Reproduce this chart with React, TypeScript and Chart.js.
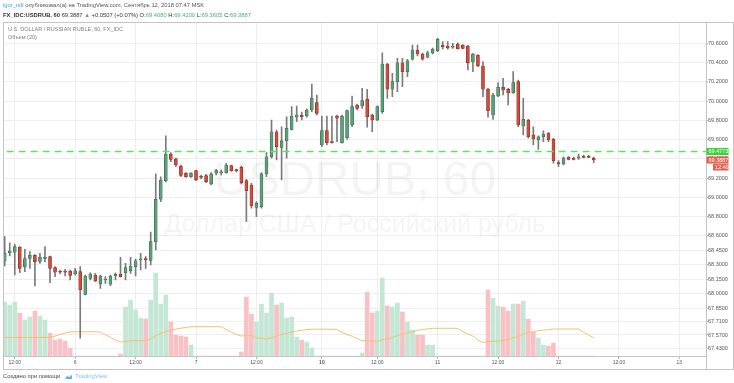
import React, { useEffect, useRef } from 'react';
import { Chart, registerables } from 'chart.js';

Chart.register(...registerables);

const FONT = "'Liberation Sans', Arial, sans-serif";

const opens = [
  68.339, 68.425, 68.430, 68.482, 68.280, 68.367, 68.398, 68.336, 68.367, 68.384,
  68.270, 68.228, 68.226, 68.235, 68.204, 68.228, 67.993, 68.159, 68.193, 68.100,
  68.142, 68.097, 68.183, 68.201, 68.218, 68.238, 68.280, 68.350, 68.360, 68.344,
  68.540, 68.981, 69.174, 69.451, 69.400, 69.327, 69.251, 69.215, 69.278, 69.215,
  69.226, 69.140, 69.251, 69.255, 69.257, 69.330, 69.285, 69.313, 69.174, 69.129,
  68.897, 68.904, 69.244, 69.423, 69.683, 69.521, 69.590, 69.708, 69.833, 69.854,
  69.846, 69.909, 69.985, 69.545, 69.694, 69.576, 69.846, 69.569, 69.621, 69.753,
  69.961, 69.950, 70.020, 69.857, 69.805, 69.891, 70.387, 70.124, 70.203, 70.400,
  70.307, 70.436, 70.532, 70.491, 70.457, 70.504, 70.525, 70.584, 70.574, 70.561,
  70.595, 70.581, 70.574, 70.408, 70.477, 70.366, 70.124, 69.857, 70.054, 70.145,
  70.124, 70.089, 70.203, 69.743, 69.805, 69.649, 69.597, 69.631, 69.669, 69.604,
  69.361, 69.347, 69.417, 69.410, 69.407, 69.430, 69.430, 69.408,
];
const highs = [
  68.592, 68.529, 68.516, 68.488, 68.461, 68.436, 68.405, 68.419, 68.488, 68.391,
  68.280, 68.246, 68.253, 68.246, 68.263, 68.280, 68.193, 68.217, 68.211, 68.193,
  68.176, 68.193, 68.217, 68.378, 68.315, 68.378, 68.360, 68.419, 68.384, 68.641,
  69.244, 69.215, 69.639, 69.465, 69.410, 69.337, 69.257, 69.257, 69.285, 69.233,
  69.240, 69.257, 69.292, 69.285, 69.355, 69.337, 69.295, 69.327, 69.189, 69.147,
  68.956, 69.257, 69.465, 69.805, 69.701, 69.735, 69.839, 69.943, 69.950, 69.888,
  69.922, 70.179, 70.065, 69.846, 69.846, 69.846, 69.857, 69.857, 69.909, 70.054,
  69.971, 70.134, 70.124, 69.867, 69.950, 70.504, 70.394, 70.290, 70.446, 70.446,
  70.436, 70.584, 70.584, 70.501, 70.522, 70.553, 70.654, 70.619, 70.619, 70.602,
  70.608, 70.588, 70.581, 70.498, 70.484, 70.411, 70.134, 70.082, 70.193, 70.238,
  70.134, 70.307, 70.221, 70.030, 69.812, 69.735, 69.639, 69.691, 69.675, 69.615,
  69.382, 69.423, 69.425, 69.420, 69.451, 69.441, 69.438, 69.420,
];
const lows = [
  68.287, 68.391, 68.194, 68.218, 68.228, 68.263, 68.079, 68.315, 68.332, 68.114,
  68.176, 68.204, 68.183, 68.142, 68.193, 67.536, 67.986, 68.142, 68.124, 68.055,
  68.107, 68.082, 68.142, 68.170, 68.142, 68.211, 68.183, 68.246, 68.263, 68.298,
  68.454, 68.956, 69.160, 69.371, 69.320, 69.215, 69.209, 69.209, 69.174, 69.192,
  69.153, 69.129, 69.233, 69.233, 69.251, 69.274, 69.264, 69.140, 68.748, 68.887,
  68.800, 68.887, 69.215, 69.407, 69.389, 69.181, 69.407, 69.701, 69.787, 69.805,
  69.833, 69.891, 69.857, 69.527, 69.545, 69.563, 69.579, 69.563, 69.604, 69.735,
  69.909, 69.926, 69.729, 69.683, 69.798, 69.874, 70.030, 70.047, 70.099, 70.151,
  70.255, 70.428, 70.470, 70.428, 70.449, 70.491, 70.515, 70.540, 70.540, 70.550,
  70.540, 70.543, 70.325, 70.307, 70.359, 70.047, 69.833, 69.812, 70.047, 70.065,
  69.961, 70.082, 69.735, 69.649, 69.615, 69.545, 69.500, 69.579, 69.579, 69.355,
  69.320, 69.337, 69.389, 69.389, 69.396, 69.410, 69.412, 69.3605,
];
const closes = [
  68.419, 68.443, 68.488, 68.263, 68.363, 68.398, 68.332, 68.378, 68.378, 68.263,
  68.222, 68.222, 68.224, 68.190, 68.238, 68.038, 68.183, 68.204, 68.131, 68.183,
  68.149, 68.183, 68.201, 68.176, 68.270, 68.287, 68.342, 68.357, 68.353, 68.540,
  68.981, 69.181, 69.451, 69.396, 69.337, 69.230, 69.215, 69.251, 69.181, 69.209,
  69.164, 69.244, 69.278, 69.259, 69.337, 69.278, 69.278, 69.153, 69.070, 68.911,
  68.939, 69.244, 69.423, 69.683, 69.527, 69.587, 69.719, 69.846, 69.857, 69.839,
  69.909, 70.030, 69.874, 69.694, 69.569, 69.569, 69.823, 69.846, 69.902, 69.943,
  69.926, 70.006, 69.839, 69.805, 69.943, 70.387, 70.124, 70.203, 70.400, 70.307,
  70.421, 70.532, 70.491, 70.436, 70.504, 70.540, 70.644, 70.567, 70.553, 70.567,
  70.546, 70.550, 70.400, 70.491, 70.366, 70.124, 69.902, 70.065, 70.145, 70.117,
  70.089, 70.193, 69.753, 69.812, 69.631, 69.607, 69.631, 69.656, 69.597, 69.382,
  69.347, 69.410, 69.396, 69.396, 69.423, 69.417, 69.417, 69.3887,
];
const volumes = [
  54, 51, 54, 43, 36, 39, 45, 40, 36, 23,
  16, 17, 15, 8, 0, 0, 0, 0, 0, 0,
  0, 0, 0, 2, 49, 56, 46, 38, 37, 56,
  83, 52, 61, 34, 21, 20, 19, 11, 0, 0,
  0, 0, 0, 0, 0, 0, 0, 4, 59, 42,
  34, 52, 43, 63, 51, 53, 38, 39, 19, 16,
  14, 8, 0, 0, 0, 0, 0, 0, 0, 0,
  0, 3, 64, 43, 45, 78, 50, 49, 53, 44,
  34, 26, 21, 21, 11, 11, 0, 0, 0, 0,
  0, 0, 0, 0, 0, 0, 66, 58, 50, 49,
  45, 52, 52, 55, 37, 24, 18, 11, 10, 13,
  0, 0, 0, 0, 0, 0, 0, 0,
];
const volumeMA = [
  18.5, 18.5, 18.5, 18.5, 18.5, 18.5, 18.5, 18.5, 18.5, 18.5,
  20.0, 21.5, 23.0, 24.2, 24.2, 24.2, 24.2, 24.2, 24.2, 23.9,
  21.2, 18.6, 15.9, 13.9, 14.5, 15.4, 15.4, 15.3, 15.4, 17.0,
  20.4, 22.1, 24.4, 25.7, 26.8, 27.8, 28.7, 29.3, 29.3, 29.3,
  29.3, 29.3, 29.3, 29.2, 26.7, 23.9, 21.6, 19.9, 21.0, 20.3,
  17.9, 17.9, 17.0, 18.4, 19.9, 21.6, 22.5, 23.9, 24.9, 25.7,
  26.4, 26.8, 26.8, 26.8, 26.8, 26.8, 26.6, 23.6, 21.5, 19.8,
  17.2, 15.2, 15.3, 14.9, 14.5, 16.5, 17.0, 18.5, 20.4, 21.9,
  23.2, 24.5, 25.5, 26.6, 27.1, 27.7, 27.7, 27.7, 27.7, 27.7,
  27.5, 24.3, 22.2, 19.9, 16.0, 13.5, 14.4, 14.6, 14.9, 15.7,
  16.6, 18.2, 19.7, 21.9, 23.2, 24.4, 25.3, 25.9, 26.4, 27.0,
  27.0, 27.0, 27.0, 27.0, 27.0, 23.7, 20.8, 18.3,
];

const timeTickIndex = [2, 14, 26, 38, 50, 63, 74, 86, 98, 110, 122, 134];
const timeTickLabels = ['12:00', '6', '12:00', '7', '12:00', '10', '12:00', '11', '12:00', '12', '12:00', '13'];
const priceTicks = [70.6, 70.4, 70.2, 70.0, 69.8, 69.6, 69.4, 69.2, 69.0, 68.8, 68.6, 68.45, 68.3, 68.15, 68.0, 67.85, 67.71, 67.57, 67.43];
const hLinePrice = 69.4773;
const lastPrice = 69.3887;
const countdownLabel = '12:49';
const watermarkTitle = 'USDRUB, 60';
const watermarkSubtitle = 'Доллар США / Российский рубль';

const decorPlugin = {
  id: 'decor',
  beforeDatasetsDraw(chart: any) {
    const { ctx, chartArea } = chart;
    const cx = (chartArea.left + chartArea.right) / 2;
    ctx.save();
    ctx.fillStyle = 'rgba(0,0,0,0.045)';
    ctx.textAlign = 'center';
    ctx.textBaseline = 'alphabetic';
    ctx.font = `48px ${FONT}`;
    ctx.fillText(watermarkTitle, cx, 195);
    ctx.font = `25px ${FONT}`;
    ctx.fillText(watermarkSubtitle, cx, 232);
    ctx.restore();
  },
  afterDraw(chart: any) {
    const { ctx, chartArea } = chart;
    const ys = chart.scales.y;
    ctx.save();
    ctx.strokeStyle = '#c4c4c4';
    ctx.lineWidth = 1;
    ctx.strokeRect(3.5, 22.5, 730, 347);
    ctx.beginPath();
    ctx.moveTo(chartArea.right + 0.5, 22.5);
    ctx.lineTo(chartArea.right + 0.5, 369.5);
    ctx.moveTo(3.5, chartArea.bottom + 0.5);
    ctx.lineTo(chartArea.right + 0.5, chartArea.bottom + 0.5);
    ctx.stroke();

    const bx = chartArea.right + 0.5;
    const py1 = ys.getPixelForValue(hLinePrice);
    const py2 = ys.getPixelForValue(lastPrice);
    ctx.font = `5.5px ${FONT}`;
    ctx.textBaseline = 'middle';
    ctx.textAlign = 'left';
    ctx.fillStyle = '#3fcf3f';
    ctx.fillRect(bx, py1 - 3.5, 22, 7);
    ctx.fillStyle = '#ffffff';
    ctx.fillText(hLinePrice.toFixed(4), bx + 2, py1 + 0.3);
    ctx.fillStyle = '#e4604f';
    ctx.fillRect(bx, py2 - 3.5, 22, 7);
    ctx.fillRect(bx + 6.5, py2 + 4, 15.5, 6.5);
    ctx.fillStyle = '#ffffff';
    ctx.fillText(lastPrice.toFixed(4), bx + 2, py2 + 0.3);
    ctx.fillText(countdownLabel, bx + 8.5, py2 + 7.3);
    ctx.restore();
  },
};

export default function App() {
  const canvasRef = useRef<HTMLCanvasElement | null>(null);

  useEffect(() => {
    if (!canvasRef.current) return;
    const idx = opens.map((_, i) => i);
    const up = idx.map((i) => closes[i] >= opens[i]);
    const chart = new Chart(canvasRef.current, {
      type: 'bar',
      data: {
        datasets: [
          {
            type: 'bar',
            label: 'Объем',
            yAxisID: 'yVol',
            data: idx.map((i) => ({ x: i, y: volumes[i] })),
            backgroundColor: idx.map((i) => (up[i] ? '#c3e6d5' : '#f8c1c6')),
            barThickness: 4,
            grouped: false,
            order: 5,
          } as any,
          {
            type: 'line',
            label: 'MA',
            yAxisID: 'yVol',
            data: idx.map((i) => ({ x: i, y: volumeMA[i] })),
            borderColor: '#f4c06c',
            borderWidth: 1,
            pointRadius: 0,
            order: 4,
          } as any,
          {
            type: 'bar',
            label: 'wick',
            yAxisID: 'y',
            data: idx.map((i) => ({ x: i, y: [lows[i], highs[i]] })),
            backgroundColor: '#7b7b7e',
            barThickness: 1,
            grouped: false,
            order: 3,
          } as any,
          {
            type: 'bar',
            label: 'body',
            yAxisID: 'y',
            data: idx.map((i) => ({ x: i, y: [opens[i], closes[i]] })),
            backgroundColor: idx.map((i) => (up[i] ? '#5e9e7b' : '#cf4d3f')),
            borderColor: idx.map((i) => (up[i] ? '#2f6447' : '#80291f')),
            borderWidth: 0.6,
            borderSkipped: false,
            barThickness: 3,
            minBarLength: 1,
            grouped: false,
            order: 2,
          } as any,
          {
            type: 'line',
            label: 'level',
            yAxisID: 'y',
            data: [
              { x: -2, y: hLinePrice },
              { x: 142, y: hLinePrice },
            ],
            borderColor: '#62e062',
            borderWidth: 1.6,
            borderDash: [7, 5],
            pointRadius: 0,
            order: 1,
          } as any,
        ],
      },
      options: {
        responsive: false,
        animation: false,
        events: [],
        layout: { padding: { left: 3.5, top: 22.5, right: 0, bottom: 14 } },
        plugins: { legend: { display: false }, tooltip: { enabled: false } },
        scales: {
          x: {
            type: 'linear',
            min: -0.24,
            max: 139.3,
            offset: false,
            grid: { color: '#eeeeee', offset: false, tickLength: 3, tickColor: '#b5b5b5' },
            border: { display: false },
            afterBuildTicks: (s: any) => {
              s.ticks = timeTickIndex.map((v) => ({ value: v }));
            },
            afterFit: (s: any) => {
              s.height = 13;
            },
            ticks: {
              autoSkip: false,
              maxRotation: 0,
              padding: 1,
              color: '#555555',
              font: (c: any) => ({
                family: FONT,
                size: 5,
                weight: c.tick && c.tick.label === '10' ? 'bold' : 'normal',
              }),
              callback: (v: any) => {
                const k = timeTickIndex.indexOf(Number(v));
                return k >= 0 ? timeTickLabels[k] : '';
              },
            },
          },
          y: {
            type: 'linear',
            position: 'right',
            min: 67.3516,
            max: 70.8183,
            grid: { color: '#eeeeee', tickLength: 2, tickColor: '#b5b5b5' },
            border: { display: false },
            afterBuildTicks: (s: any) => {
              s.ticks = priceTicks.map((v) => ({ value: v }));
            },
            afterFit: (s: any) => {
              s.width = 28;
            },
            ticks: {
              autoSkip: false,
              padding: 0,
              color: '#555555',
              font: { family: FONT, size: 5.5 },
              callback: (v: any) => Number(v).toFixed(4),
            },
          },
          yVol: { type: 'linear', display: false, min: 0, max: 333.5 },
        },
      } as any,
      plugins: [decorPlugin],
    });
    return () => chart.destroy();
  }, []);

  const green = '#4cae7a';
  return (
    <div
      style={{
        position: 'fixed',
        left: 0,
        top: 0,
        width: 734,
        height: 383,
        background: '#ffffff',
        overflow: 'hidden',
        fontFamily: FONT,
      }}
    >
      <canvas ref={canvasRef} width={734} height={383} style={{ display: 'block', position: 'absolute', left: 0, top: 0 }} />
      <div style={{ position: 'absolute', left: 3, top: 2, fontSize: 5.8, color: '#555', whiteSpace: 'nowrap', lineHeight: '7px' }}>
        <span style={{ color: '#3aa3e3' }}>igor_ndl</span> опубликовал(а) на TradingView.com, Сентябрь 12, 2018 07:47 MSK
      </div>
      <div style={{ position: 'absolute', left: 3, top: 12, fontSize: 5.8, color: '#333', whiteSpace: 'nowrap', lineHeight: '7px' }}>
        <b>FX_IDC:USDRUB, 60</b> 69.3887 <span style={{ color: green }}>▲</span> +0.0507 (+0.07%){' '}
        O:<span style={{ color: green }}>69.4080</span> H:<span style={{ color: green }}>69.4200</span> L:
        <span style={{ color: green }}>69.3605</span> C:<span style={{ color: green }}>69.3887</span>
      </div>
      <div style={{ position: 'absolute', left: 8, top: 26, fontSize: 5.5, color: '#808080', whiteSpace: 'nowrap', lineHeight: '6px' }}>
        U.S. DOLLAR / RUSSIAN RUBLE, 60, FX_IDC
      </div>
      <div style={{ position: 'absolute', left: 8, top: 34, fontSize: 5.5, color: '#808080', whiteSpace: 'nowrap', lineHeight: '6px' }}>
        Объем (20)
      </div>
      <div style={{ position: 'absolute', left: 3, top: 373, fontSize: 5.8, color: '#444', whiteSpace: 'nowrap', lineHeight: '7px', display: 'flex', alignItems: 'center' }}>
        <span>Создано при помощи</span>
        <svg width="9" height="6" viewBox="0 0 9 6" style={{ margin: '0 2px 0 4px' }}>
          <path d="M1 5 L3.5 1.5 L5 3.2 L8 0.8 L8 5 Z" fill="#5fb3e6" />
        </svg>
        <span style={{ color: '#7fc2ea' }}>TradingView</span>
      </div>
    </div>
  );
}
